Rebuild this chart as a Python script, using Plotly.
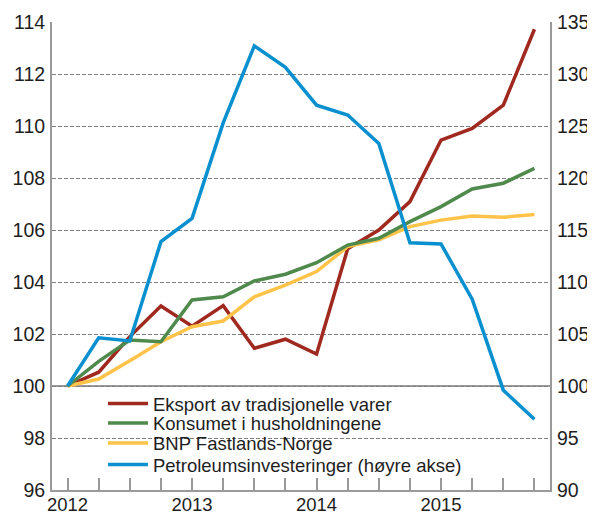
import plotly.graph_objects as go

quarters = ["2012K1", "2012K2", "2012K3", "2012K4",
            "2013K1", "2013K2", "2013K3", "2013K4",
            "2014K1", "2014K2", "2014K3", "2014K4",
            "2015K1", "2015K2", "2015K3", "2015K4"]
year_labels = ["2012", "", "", "", "2013", "", "", "", "2014", "", "", "", "2015", "", "", ""]

eksport = [100, 100.53, 101.9, 103.08, 102.3, 103.09, 101.45, 101.8,
           101.23, 105.28, 106.0, 107.09, 109.46, 109.91, 110.8, 113.72]
konsum = [100, 100.95, 101.77, 101.7, 103.31, 103.43, 104.04, 104.3,
          104.74, 105.42, 105.68, 106.32, 106.9, 107.58, 107.8, 108.37]
bnp = [100, 100.27, 100.97, 101.7, 102.28, 102.5, 103.43, 103.88,
       104.4, 105.36, 105.62, 106.13, 106.38, 106.54, 106.49, 106.6]
petro = [100, 104.64, 104.33, 113.88, 116.12, 125.3, 132.7, 130.64,
         127.0, 126.06, 123.33, 113.78, 113.65, 108.35, 99.6, 96.8]

names = ["Eksport av tradisjonelle varer", "Konsumet i husholdningene",
         "BNP Fastlands-Norge", "Petroleumsinvesteringer (høyre akse)"]
colors = ["#A0291F", "#4F8A4C", "#FFC34A", "#0A8FCF"]

left_ticks = [96, 98, 100, 102, 104, 106, 108, 110, 112, 114]
right_ticks = [90, 95, 100, 105, 110, 115, 120, 125, 130, 135]

x = list(range(len(quarters)))
FONT = "Liberation Sans, Arial, sans-serif"
TXT = "#1e1e1e"
AX = "#9a9a9a"

fig = go.Figure()
series = [(eksport, 0, "y"), (bnp, 2, "y"), (konsum, 1, "y"), (petro, 3, "y2")]
legend_ids = ["legend", "legend2", "legend3", "legend4"]
for vals, k, ax in series:
    fig.add_trace(go.Scatter(
        x=x, y=vals, mode="lines", name=names[k], yaxis=ax,
        line=dict(color=colors[k], width=3.5),
        legend=legend_ids[k], showlegend=True,
    ))

# legend rows
row_y = [0.1838, 0.1421, 0.0994, 0.0534]
leg_x = 0.1024
for k, lid in enumerate(legend_ids):
    fig.update_layout({lid: dict(
        x=leg_x, y=row_y[k], xanchor="left", yanchor="middle",
        bgcolor="rgba(0,0,0,0)", borderwidth=0,
        font=dict(family=FONT, size=18.5, color=TXT),
        itemwidth=40,
    )})

# white backdrop behind legend (hides gridline)
fig.add_shape(type="rect", xref="paper", yref="paper",
              x0=0.09, x1=0.886, y0=0.045, y1=0.212,
              fillcolor="white", line=dict(width=0), layer="between")
# baseline at 100
fig.add_shape(type="line", xref="paper", yref="y", x0=0, x1=1, y0=100, y1=100,
              line=dict(color=AX, width=2), layer="between")

# page body has an 8px default margin, so the figure is sized to fit inside it
fig.update_layout(
    width=587, height=507,
    margin=dict(l=44, r=45, t=14, b=25),
    plot_bgcolor="white", paper_bgcolor="white",
    font=dict(family=FONT, size=19.5, color=TXT),
    xaxis=dict(
        range=[-0.5, len(quarters) - 0.5], automargin=False,
        tickmode="array", tickvals=x, ticktext=year_labels,
        ticks="inside", ticklen=12, tickwidth=1.5, tickcolor=AX,
        showline=True, linecolor=AX, linewidth=2,
        showgrid=False, zeroline=False, ticklabelstandoff=-3,
        tickfont=dict(family=FONT, size=18.5, color=TXT),
    ),
    yaxis=dict(
        range=[96, 114], tickmode="array", tickvals=left_ticks, automargin=False,
        ticks="", showline=True, linecolor=AX, linewidth=2,
        showgrid=True, gridcolor="#808080", gridwidth=1, griddash="4px,2px",
        zeroline=False, ticklabelstandoff=1,
        tickfont=dict(family=FONT, size=19.5, color=TXT),
    ),
    yaxis2=dict(
        range=[90, 135], tickmode="array", tickvals=right_ticks, automargin=False,
        overlaying="y", side="right",
        ticks="", showline=True, linecolor=AX, linewidth=2,
        showgrid=False, zeroline=False, ticklabelstandoff=1,
        tickfont=dict(family=FONT, size=19.5, color=TXT),
    ),
)

fig.write_html("out.html")
